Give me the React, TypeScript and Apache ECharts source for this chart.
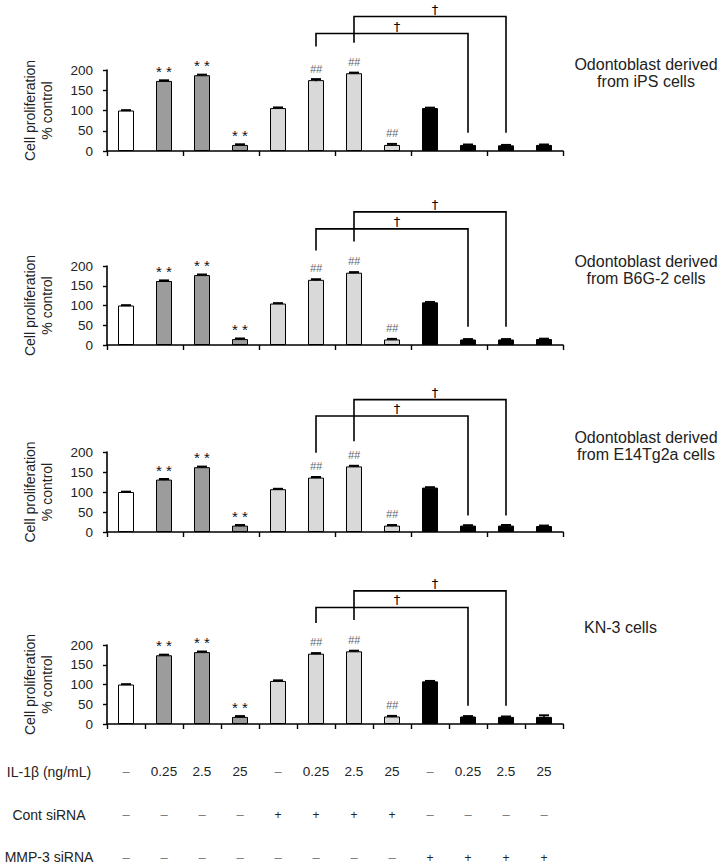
import React, { useEffect, useRef } from "react";
import * as echarts from "echarts";

// ---- Data ----
const ilDose = ["–", "0.25", "2.5", "25", "–", "0.25", "2.5", "25", "–", "0.25", "2.5", "25"];
const contSiRNA = ["–", "–", "–", "–", "+", "+", "+", "+", "–", "–", "–", "–"];
const mmp3SiRNA = ["–", "–", "–", "–", "–", "–", "–", "–", "+", "+", "+", "+"];
const categories = ilDose.map((d, i) => `${d}|${contSiRNA[i]}|${mmp3SiRNA[i]}|${i}`);
const rowLabels = ["IL-1β (ng/mL)", "Cont siRNA", "MMP-3 siRNA"];
const yTicks = [0, 50, 100, 150, 200];

const panelNames = [
  "Odontoblast derived\nfrom iPS cells",
  "Odontoblast derived\nfrom B6G-2 cells",
  "Odontoblast derived\nfrom E14Tg2a cells",
  "KN-3 cells",
];

const iPSValues = [100, 173, 187, 15, 106, 175, 192, 15, 106, 15, 14, 15];
const iPSErrors = [0.8, 1.5, 1.5, 1.5, 1.5, 2.5, 1.5, 2.5, 1, 1, 1, 1];
const b6g2Values = [100, 162, 177, 15, 105, 165, 183, 14, 108, 14, 14, 15];
const b6g2Errors = [0.8, 1.5, 1.5, 1.5, 1, 1.5, 1.5, 1.5, 1, 1, 1, 1];
const e14Values = [100, 131, 162, 16, 107, 136, 164, 16, 111, 16, 16, 15];
const e14Errors = [0.8, 1.5, 1.5, 1.5, 1, 1.5, 1.5, 1.5, 1, 1, 1.5, 1];
const kn3Values = [100, 174, 182, 18, 109, 178, 184, 19, 108, 19, 18, 18];
const kn3Errors = [0.8, 1.5, 1.5, 2, 1.5, 1.5, 1.5, 1.5, 1, 1, 1, 4];

const sigMarks = ["", "**", "**", "**", "", "##", "##", "##", "", "", "", ""];

// brackets: [fromIndex, toIndex, levelValue, leftLegEndValue, rightLegEndValue]
const iPSBrackets = [[5, 9, 290, 258, 45], [6, 10, 332, 267, 45]];
const b6g2Brackets = [[5, 9, 294, 239, 46], [6, 10, 337, 262, 46]];
const e14Brackets = [[5, 9, 290, 198, 41], [6, 10, 331, 227, 41]];
const kn3Brackets = [[5, 9, 295, 256, 46], [6, 10, 337, 263, 46]];

const panelValues = [iPSValues, b6g2Values, e14Values, kn3Values];
const panelErrors = [iPSErrors, b6g2Errors, e14Errors, kn3Errors];
const panelBrackets = [iPSBrackets, b6g2Brackets, e14Brackets, kn3Brackets];

// ---- Layout / style ----
const GRID_LEFT = 107;
const GRID_WIDTH = 456;
const panelTop = [70, 266, 452, 645];
const panelHeight = [81, 79, 80, 79];
const panelLabelPos = [
  { x: 646, y: 73, align: "center" },
  { x: 646, y: 270, align: "center" },
  { x: 646, y: 446, align: "center" },
  { x: 584, y: 627, align: "left" },
];
const rowLabelY = [772, 815, 857];
const FONT = "'Liberation Sans', Arial, Helvetica, sans-serif";

const barColor = (i: number) =>
  i === 0 ? "#ffffff" : i < 4 ? "#9c9c9c" : i < 8 ? "#d9d9d9" : "#000000";

const cellTag = (s: string) => (s === "–" ? `{d|–}` : s === "+" ? `{p|+}` : `{v|${s}}`);

export default function App() {
  const ref = useRef<HTMLDivElement>(null);

  useEffect(() => {
    if (!ref.current) return;
    const chart = echarts.init(ref.current, undefined, { renderer: "svg" });

    const grids: any[] = [];
    const xAxes: any[] = [];
    const yAxes: any[] = [];
    const series: any[] = [];

    for (let g = 0; g < 4; g++) {
      grids.push({ left: GRID_LEFT, width: GRID_WIDTH, top: panelTop[g], height: panelHeight[g] });
      const isLast = g === 3;
      xAxes.push({
        type: "category",
        gridIndex: g,
        data: categories,
        axisLine: { lineStyle: { color: "#000", width: 1.6 } },
        axisTick: { show: true, length: 5, lineStyle: { color: "#000", width: 1.4 } },
        axisLabel: isLast
          ? {
              show: true,
              interval: 0,
              margin: 26,
              formatter: (_v: string, idx: number) =>
                `${cellTag(ilDose[idx])}\n${cellTag(contSiRNA[idx])}\n${cellTag(mmp3SiRNA[idx])}`,
              rich: {
                v: { fontSize: 13.5, lineHeight: 43, color: "#222", fontFamily: FONT },
                d: { fontSize: 13, lineHeight: 43, color: "#777", fontFamily: FONT },
                p: { fontSize: 12, lineHeight: 43, color: "#222", fontFamily: FONT },
              },
            }
          : { show: false },
        splitLine: { show: false },
      });
      yAxes.push({
        type: "value",
        gridIndex: g,
        min: 0,
        max: 200,
        interval: 50,
        name: "Cell proliferation\n% control",
        nameLocation: "middle",
        nameGap: 52,
        nameTextStyle: { fontSize: 14, lineHeight: 17, color: "#222", fontFamily: FONT },
        axisLine: { show: true, lineStyle: { color: "#000", width: 1.6 } },
        axisTick: { show: true, length: 4, lineStyle: { color: "#000", width: 1.4 } },
        axisLabel: {
          fontSize: 13.5,
          color: "#222",
          margin: 14,
          fontFamily: FONT,
          customValues: yTicks,
        },
        splitLine: { show: false },
      });

      const values = panelValues[g];
      const errors = panelErrors[g];

      series.push({
        type: "bar",
        xAxisIndex: g,
        yAxisIndex: g,
        barWidth: 16,
        data: values,
        itemStyle: {
          color: (p: any) => barColor(p.dataIndex),
          borderColor: "#000",
          borderWidth: 1,
        },
        label: {
          show: true,
          position: "top",
          distance: 2,
          formatter: (p: any) => {
            const m = sigMarks[p.dataIndex];
            if (!m) return "";
            return m === "**" ? `{s|* *}` : `{h|${m}}`;
          },
          rich: {
            s: { fontSize: 15, color: "#111", fontFamily: FONT },
            h: { fontSize: 11, color: "#666", fontStyle: "italic", fontFamily: FONT, padding: [0, 0, 4, 0] },
          },
        },
      });

      series.push({
        type: "custom",
        xAxisIndex: g,
        yAxisIndex: g,
        data: values.map((v, i) => [i, v, errors[i]]),
        encode: { x: 0, y: 1 },
        renderItem: (_params: any, api: any) => {
          const x = api.value(0);
          const v = api.value(1);
          const e = api.value(2);
          const top = api.coord([x, v + e]);
          const bot = api.coord([x, v - e]);
          return {
            type: "group",
            children: [
              {
                type: "line",
                shape: { x1: top[0], y1: top[1], x2: bot[0], y2: bot[1] },
                style: { stroke: "#000", lineWidth: 1.5 },
              },
              {
                type: "line",
                shape: { x1: top[0] - 5, y1: top[1], x2: top[0] + 5, y2: top[1] },
                style: { stroke: "#000", lineWidth: 2 },
              },
            ],
          };
        },
        z: 5,
      });

      series.push({
        type: "custom",
        xAxisIndex: g,
        yAxisIndex: g,
        data: panelBrackets[g],
        encode: { x: [0, 1], y: [2, 3, 4] },
        clip: false,
        renderItem: (_params: any, api: any) => {
          const f = api.value(0);
          const t = api.value(1);
          const lv = api.value(2);
          const le = api.value(3);
          const re = api.value(4);
          const pL = api.coord([f, le]);
          const pLT = api.coord([f, lv]);
          const pRT = api.coord([t, lv]);
          const pR = api.coord([t, re]);
          return {
            type: "group",
            children: [
              {
                type: "polyline",
                shape: { points: [pL, pLT, pRT, pR] },
                style: { stroke: "#000", lineWidth: 1.6, fill: null },
              },
              {
                type: "text",
                x: (pLT[0] + pRT[0]) / 2 + 5,
                y: pLT[1] - 1,
                style: {
                  text: "†",
                  fontSize: 13,
                  fontFamily: "'DejaVu Sans', " + FONT,
                  fill: "#000",
                  textAlign: "center",
                  textVerticalAlign: "bottom",
                },
              },
            ],
          };
        },
        z: 6,
      });
    }

    const graphics: any[] = [];
    panelNames.forEach((name, g) => {
      const pos = panelLabelPos[g];
      graphics.push({
        type: "text",
        x: pos.x,
        y: pos.y,
        style: {
          text: name,
          fontSize: 16,
          lineHeight: 17,
          fontFamily: FONT,
          fill: "#222",
          textAlign: pos.align,
          textVerticalAlign: "middle",
        },
      });
    });
    rowLabels.forEach((lab, r) => {
      graphics.push({
        type: "text",
        x: 49,
        y: rowLabelY[r],
        style: {
          text: lab,
          fontSize: 14,
          fontFamily: FONT,
          fill: "#222",
          textAlign: "center",
          textVerticalAlign: "middle",
        },
      });
    });

    chart.setOption({
      animation: false,
      backgroundColor: "#ffffff",
      grid: grids,
      xAxis: xAxes,
      yAxis: yAxes,
      series,
      graphic: graphics,
    });

    return () => chart.dispose();
  }, []);

  return (
    <div
      ref={ref}
      style={{ position: "fixed", left: 0, top: 0, width: 720, height: 867, background: "#fff" }}
    />
  );
}
